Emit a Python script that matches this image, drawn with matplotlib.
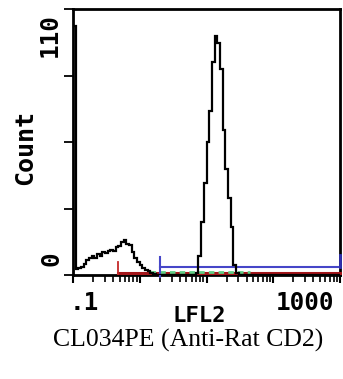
import numpy as np
import matplotlib.pyplot as plt
from matplotlib.ticker import LogLocator, NullFormatter

# histogram: 100 channels spanning 4 decades (0.1 .. 1000), counts per channel
counts = [103, 2.5, 3, 3.5, 4.5, 6, 7, 8, 7, 8.5,
          8, 9.5, 9, 10, 10.5, 10, 11.5, 12, 13.5, 14.5,
          13, 12.5, 9.5, 7, 5.5, 4, 3, 2, 1.5, 1,
          0.5, 0, 0, 0, 0, 0, 0, 0, 0, 0,
          0, 0, 0, 0, 0, 0, 1, 8, 22, 38,
          55, 68, 88, 99, 96, 85, 60, 44, 32, 20,
          4, 1, 0, 0, 0, 0, 0, 0, 0, 0,
          0, 0, 0, 0, 0, 0, 0, 0, 0, 0,
          0, 0, 0, 0, 0, 0, 0, 0, 0, 0,
          0, 0, 0, 0, 0, 0, 0, 0, 0, 0]
edges = np.logspace(-1, 3, len(counts) + 1)

# gate markers (start, end, level)
red_gate = (0.47, 1000, 1.0)
green_gate = (1.43, 45, 1.4)
blue_gate = (2.0, 1000, 3.3)

fig = plt.figure(figsize=(3.43, 3.79), dpi=100)
ax = fig.add_axes([73 / 343, 1 - 275 / 379, 267 / 343, 266 / 379])

ax.stairs(counts, edges, color='black', lw=1.6, zorder=4)

# markers
ax.plot(red_gate[:2], [red_gate[2]] * 2, color='#a3161a', lw=2.2, zorder=3, clip_on=False)
ax.plot([red_gate[0]] * 2, [0, 5.4], color='#c42a2a', lw=1.3, zorder=3)
ax.plot(green_gate[:2], [green_gate[2]] * 2, color='#5fcf86', lw=2, ls=(0, (2, 1.5)), zorder=3)
ax.plot(blue_gate[:2], [blue_gate[2]] * 2, color='#4646c8', lw=1.5, zorder=3, clip_on=False)
ax.plot([blue_gate[0]] * 2, [-0.8, 7.4], color='#4646c8', lw=1.5, zorder=3, clip_on=False)
ax.plot([blue_gate[1]] * 2, [blue_gate[2], 8.2], color='#3030b0', lw=2, zorder=3, clip_on=False)

ax.set_xscale('log')
ax.set_xlim(0.1, 1000)
ax.set_ylim(0, 110)

ax.xaxis.set_major_locator(LogLocator(base=10, numticks=10))
ax.xaxis.set_minor_locator(LogLocator(base=10, subs=np.arange(2, 10), numticks=20))
ax.xaxis.set_major_formatter(NullFormatter())
ax.xaxis.set_minor_formatter(NullFormatter())
ax.set_yticks([0, 27.5, 55, 82.5, 110])
ax.set_yticklabels([])
ax.tick_params(axis='x', which='major', direction='out', length=6, width=1.5)
ax.tick_params(axis='x', which='minor', direction='out', length=5, width=1.2)
ax.tick_params(axis='y', direction='out', length=6.5, width=1.3)
for s in ax.spines.values():
    s.set_linewidth(2)

mono = dict(family='DejaVu Sans Mono', fontweight='bold')
fig.text(70 / 343, 1 - 303 / 379, '.1', ha='left', va='center', fontsize=17.5, **mono)
fig.text(334 / 343, 1 - 303 / 379, '1000', ha='right', va='center', fontsize=17.5, **mono)
fig.text(50 / 343, 1 - 13 / 379, '110', ha='center', va='top', rotation=90, fontsize=17.5, **mono)
fig.text(51 / 343, 1 - 259 / 379, '0', ha='center', va='center', rotation=90, fontsize=17.5, **mono)
fig.text(25 / 343, 1 - 148 / 379, 'Count', ha='center', va='center', rotation=90, fontsize=18, **mono)
fig.text(199 / 343, 1 - 316 / 379, 'LFL2', ha='center', va='center', fontsize=16, **mono)
fig.text(188 / 343, 1 - 340 / 379, 'CL034PE (Anti-Rat CD2)', ha='center', va='center',
         fontsize=18.5, family='Liberation Serif')

fig.savefig('out.png', dpi=100)
